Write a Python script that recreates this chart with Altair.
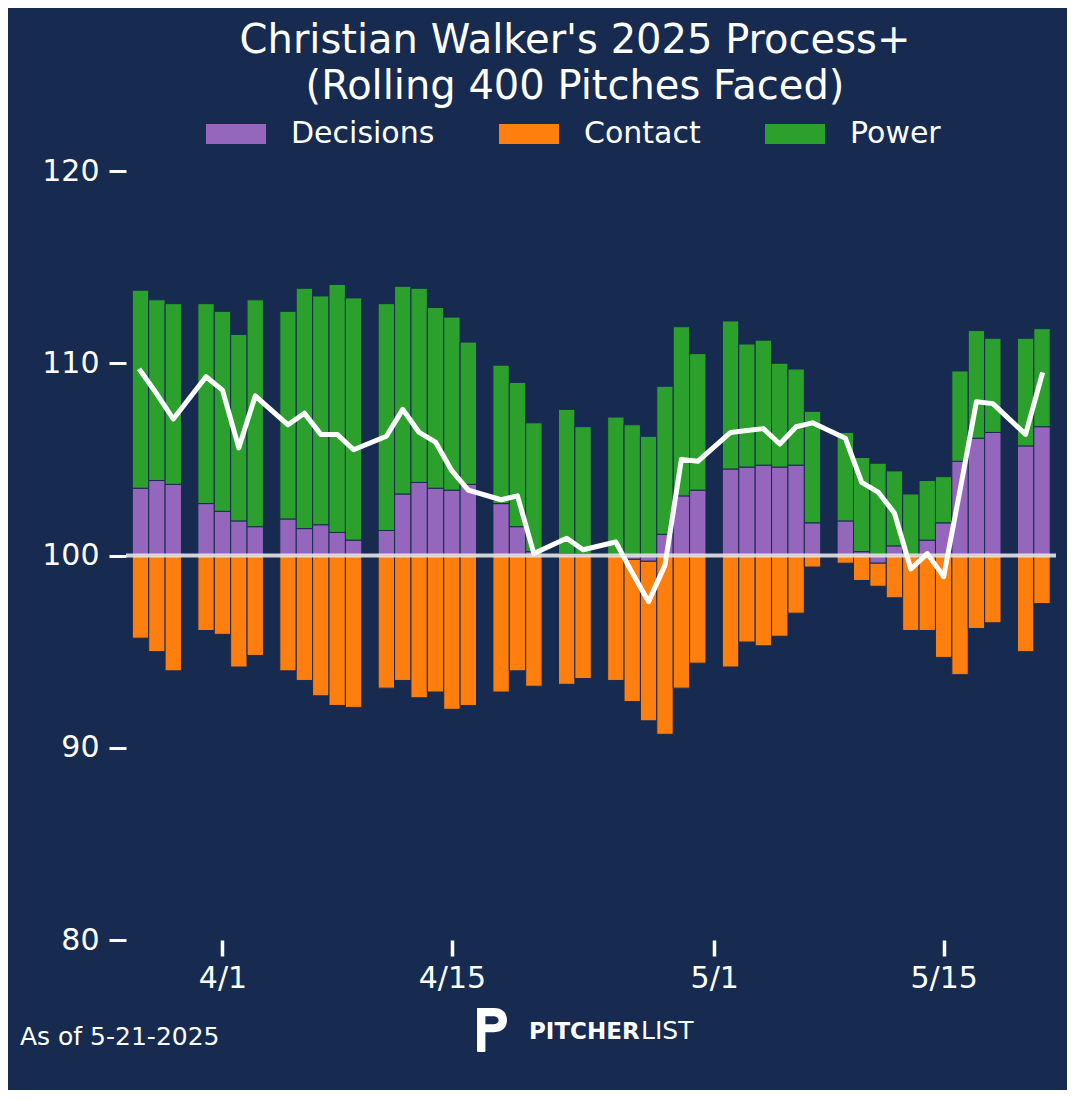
import pandas as pd
import altair as alt

# Rolling 400-pitch Process+ components (100 = league average)
GAME_DATES = [
    "2025-03-27", "2025-03-28", "2025-03-29", "2025-03-31", "2025-04-01", "2025-04-02",
    "2025-04-03", "2025-04-05", "2025-04-06", "2025-04-07", "2025-04-08", "2025-04-09",
    "2025-04-11", "2025-04-12", "2025-04-13", "2025-04-14", "2025-04-15", "2025-04-16",
    "2025-04-18", "2025-04-19", "2025-04-20", "2025-04-22", "2025-04-23", "2025-04-25",
    "2025-04-26", "2025-04-27", "2025-04-28", "2025-04-29", "2025-04-30", "2025-05-02",
    "2025-05-03", "2025-05-04", "2025-05-05", "2025-05-06", "2025-05-07", "2025-05-09",
    "2025-05-10", "2025-05-11", "2025-05-12", "2025-05-13", "2025-05-14", "2025-05-15",
    "2025-05-16", "2025-05-17", "2025-05-18", "2025-05-20", "2025-05-21",
]
DECISIONS = [
    103.5, 103.9, 103.7, 102.7, 102.3, 101.8, 101.5, 101.9, 101.4, 101.6, 101.2, 100.8,
    101.3, 103.2, 103.8, 103.5, 103.4, 103.7, 102.7, 101.5, 100.2, 100.1, 100.1, 100.0,
    99.8, 99.7, 101.1, 103.1, 103.4, 104.5, 104.6, 104.7, 104.6, 104.7, 101.7, 101.8,
    100.2, 99.6, 100.5, 100.0, 100.8, 101.7, 104.9, 106.1, 106.4, 105.7, 106.7,
]
CONTACT = [
    95.7, 95.0, 94.0, 96.1, 95.9, 94.2, 94.8, 94.0, 93.5, 92.7, 92.2, 92.1,
    93.1, 93.5, 92.6, 92.9, 92.0, 92.2, 92.9, 94.0, 93.2, 93.3, 93.6, 93.5,
    92.6, 91.7, 90.7, 93.1, 94.4, 94.2, 95.5, 95.3, 95.8, 97.0, 99.4, 99.6,
    98.7, 98.8, 97.8, 96.1, 96.1, 94.7, 93.8, 96.2, 96.5, 95.0, 97.5,
]
POWER = [
    110.3, 109.4, 109.4, 110.4, 110.4, 109.7, 111.8, 110.8, 112.5, 111.9, 112.9, 112.6,
    111.8, 110.8, 110.1, 109.4, 109.0, 107.4, 107.2, 107.5, 106.7, 107.5, 106.6, 107.2,
    106.8, 106.2, 107.7, 108.8, 107.1, 107.7, 106.4, 106.5, 105.4, 105.0, 105.8, 104.6,
    104.9, 104.8, 103.9, 103.2, 103.1, 102.4, 104.7, 105.6, 104.9, 105.6, 105.1,
]
PROCESS = [
    109.6, 108.4, 107.1, 109.3, 108.6, 105.6, 108.3, 106.8, 107.4, 106.3, 106.3, 105.5,
    106.2, 107.6, 106.4, 105.9, 104.4, 103.4, 102.9, 103.1, 100.1, 100.9, 100.3, 100.7,
    99.1, 97.6, 99.5, 105.0, 104.9, 106.4, 106.5, 106.6, 105.8, 106.7, 106.9, 106.1,
    103.8, 103.3, 102.2, 99.3, 100.1, 98.9, 103.4, 108.0, 107.9, 106.3, 109.4,
]

BASELINE = 100
COMPONENTS = ["Decisions", "Contact", "Power"]
COLORS = ["#9467bd", "#ff7f0e", "#2ca02c"]
TITLE = ["Christian Walker's 2025 Process+", "(Rolling 400 Pitches Faced)"]
FOOTNOTE = "As of 5-21-2025"
BRAND_BOLD = "PITCHER"
BRAND_LIGHT = "LIST"

NAVY = "#172b50"
FONT = "DejaVu Sans"
TS = "%Y-%m-%dT%H:%M:%S"

# stack each component away from 100: positives upward, negatives downward
dates = pd.to_datetime(GAME_DATES)
rows = []
for i, d in enumerate(dates):
    up, down = BASELINE, BASELINE
    for name, vals in zip(COMPONENTS, [DECISIONS, CONTACT, POWER]):
        dev = vals[i] - BASELINE
        if dev >= 0:
            lo, hi = up, up + dev
            up = hi
        else:
            lo, hi = down + dev, down
            down = lo
        rows.append({
            "start": (d - pd.Timedelta(hours=12)).strftime(TS),
            "end": (d + pd.Timedelta(hours=12)).strftime(TS),
            "Component": name,
            "lo": lo,
            "hi": hi,
            "Score": vals[i],
        })
bars_df = pd.DataFrame(rows)
line_df = pd.DataFrame({"date": dates.strftime(TS), "Process+": PROCESS})

x_scale = alt.Scale(
    domain=[alt.DateTime(year=2025, month=3, date=26, hours=2, minutes=45),
            alt.DateTime(year=2025, month=5, date=21, hours=20, minutes=30)],
    nice=False,
)
y_scale = alt.Scale(domain=[80, 120], nice=False, zero=False)

x_axis = alt.Axis(
    values=[alt.DateTime(year=2025, month=4, date=1), alt.DateTime(year=2025, month=4, date=15),
            alt.DateTime(year=2025, month=5, date=1), alt.DateTime(year=2025, month=5, date=15)],
    format="%-m/%-d", title=None, domain=False, grid=False,
    tickSize=16, tickWidth=3.5, tickColor="white",
    labelColor="white", labelFontSize=30, labelFont=FONT, labelPadding=7,
)
y_axis = alt.Axis(
    values=[80, 90, 100, 110, 120], title=None, domain=False, grid=False,
    tickSize=17, tickWidth=3, tickColor="white",
    labelColor="white", labelFontSize=30, labelFont=FONT, labelPadding=10,
)

legend = alt.Legend(
    title=None, orient="none", direction="horizontal", legendX=80, legendY=-67,
    symbolType="M-1,-0.3333H1V0.3333H-1Z", symbolSize=3600, symbolStrokeWidth=0,
    symbolOpacity=1, labelColor="white", labelFontSize=30, labelFont=FONT,
    labelOffset=25, columnPadding=64, padding=0,
)

bars = alt.Chart(bars_df).mark_bar(stroke=NAVY, strokeWidth=1).encode(
    x=alt.X("start:T", scale=x_scale, axis=x_axis),
    x2="end:T",
    y=alt.Y("lo:Q", scale=y_scale, axis=y_axis),
    y2="hi:Q",
    color=alt.Color("Component:N", scale=alt.Scale(domain=COMPONENTS, range=COLORS), legend=legend),
    tooltip=["Component:N", "Score:Q"],
)

base_rule = alt.Chart(pd.DataFrame({"base": [BASELINE]})).mark_rule(
    color="#e4e4e4", strokeWidth=4, opacity=0.9
).encode(y=alt.Y("base:Q", scale=y_scale))

line = alt.Chart(line_df).mark_line(
    color="white", strokeWidth=5, strokeJoin="round", strokeCap="square"
).encode(
    x=alt.X("date:T", scale=x_scale),
    y=alt.Y("Process+:Q", scale=y_scale),
)

note = alt.Chart(pd.DataFrame({"t": [FOOTNOTE]})).mark_text(
    align="left", baseline="alphabetic", fontSize=25, color="white", font=FONT
).encode(text="t:N", x=alt.value(-106), y=alt.value(874))

brand_bold = alt.Chart(pd.DataFrame({"t": [BRAND_BOLD]})).mark_text(
    align="left", baseline="alphabetic", fontSize=23, fontWeight="bold", color="white", font=FONT
).encode(text="t:N", x=alt.value(403), y=alt.value(868))

brand_light = alt.Chart(pd.DataFrame({"t": [BRAND_LIGHT]})).mark_text(
    align="left", baseline="alphabetic", fontSize=25, fontWeight="normal", color="white", font=FONT
).encode(text="t:N", x=alt.value(515), y=alt.value(868))

P_LOGO = ("M-0.68,-1L0.1,-1C0.5,-1 0.68,-0.75 0.68,-0.45C0.68,-0.15 0.5,0.1 0.1,0.1"
          "L-0.3,0.1L-0.3,0.95Q-0.3,1 -0.35,1L-0.63,1Q-0.68,1 -0.68,0.95Z"
          "M-0.3,-0.62L-0.3,-0.26L0.05,-0.26C0.22,-0.26 0.3,-0.34 0.3,-0.44"
          "C0.3,-0.54 0.22,-0.62 0.05,-0.62Z")
logo = alt.Chart(pd.DataFrame({"t": [BRAND_BOLD + BRAND_LIGHT]})).mark_point(
    shape=P_LOGO, size=1936, filled=True, color="white", opacity=1, strokeWidth=0
).encode(x=alt.value(366), y=alt.value(859))

chart = alt.layer(bars, base_rule, line, note, brand_bold, brand_light, logo).properties(
    width=930,
    height=769,
    autosize=alt.AutoSizeParams(type="none"),
    padding={"left": 118, "top": 163, "right": 11, "bottom": 150},
    title=alt.TitleParams(
        TITLE, fontSize=40, color="white", font=FONT, fontWeight="normal",
        anchor="middle", dx=-16, offset=-3, lineHeight=46,
    ),
).configure(background=NAVY).configure_view(strokeWidth=0)

chart.save("out.html", embed_options={"renderer": "svg", "actions": False})
